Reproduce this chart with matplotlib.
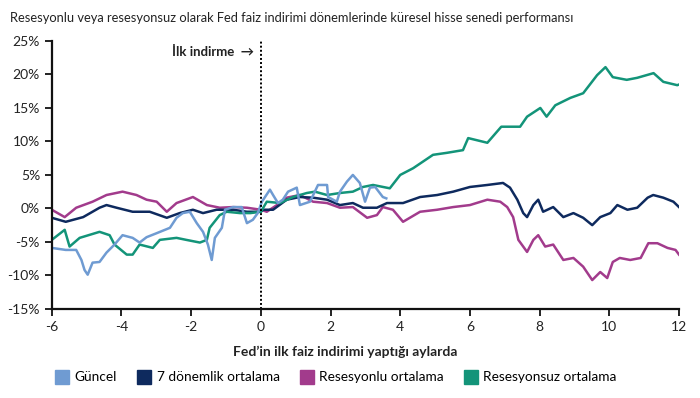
import matplotlib
matplotlib.use("Agg")
import matplotlib.pyplot as plt
from matplotlib.lines import Line2D

plt.rcParams['font.family'] = ['Lato', 'DejaVu Sans']

# Güncel (current cycle), months relative to first cut, % change
guncel_m = [-6.0, -5.6, -5.3, -5.15, -5.06, -4.97, -4.83, -4.63, -4.43, -4.2, -3.97,
            -3.68, -3.48, -3.28, -2.99, -2.61, -2.42, -2.24, -2.04, -1.84, -1.66,
            -1.52, -1.41, -1.32, -1.12, -1.03, -0.8, -0.55, -0.4, -0.23, -0.09,
            0.03, 0.26, 0.35, 0.49, 0.63, 0.78, 1.03, 1.12, 1.41, 1.64, 1.9, 1.93,
            2.18, 2.27, 2.47, 2.64, 2.84, 2.99, 3.13, 3.28, 3.5, 3.6]
guncel_v = [-5.9, -6.2, -6.2, -7.7, -9.2, -9.9, -8.1, -8.0, -6.6, -5.4, -4.0,
            -4.4, -5.1, -4.3, -3.7, -2.9, -1.4, -0.7, -0.5, -2.2, -3.5,
            -5.4, -7.7, -4.4, -2.9, -0.2, 0.2, 0.2, -2.2, -1.7, -0.7,
            1.0, 2.8, 2.0, 0.8, 1.3, 2.5, 3.1, 0.5, 1.0, 3.5, 3.5, 1.7,
            1.0, 2.5, 4.0, 5.0, 3.8, 1.0, 3.1, 3.2, 1.7, 1.5]

# 7 dönemlik ortalama
ort7_m = [-6.0, -5.6, -5.1, -4.63, -4.43, -4.14, -3.68, -3.19, -2.7, -2.33, -1.95,
          -1.66, -1.27, -0.8, -0.4, 0.0, 0.06, 0.35, 0.74, 1.12, 1.5, 1.9, 2.27,
          2.64, 2.93, 3.33, 3.62, 4.08, 4.57, 5.06, 5.52, 6.0, 6.5, 6.95, 7.15,
          7.36, 7.53, 7.64, 7.82, 7.96, 8.1, 8.39, 8.68, 8.97, 9.25, 9.51, 9.74,
          10.03, 10.23, 10.52, 10.8, 11.1, 11.26, 11.55, 11.84, 12.0]
ort7_v = [-1.4, -2.0, -1.3, 0.1, 0.5, 0.1, -0.5, -0.5, -1.4, -0.7, -0.2,
          -0.7, -0.2, -0.2, -0.5, -0.5, -0.2, -0.2, 1.3, 1.7, 1.6, 1.3, 0.5,
          0.8, 0.1, 0.1, 0.8, 0.8, 1.7, 2.0, 2.5, 3.2, 3.5, 3.8, 3.1,
          1.3, -0.7, -1.3, 0.5, 1.3, -0.5, 0.2, -1.3, -0.7, -1.4, -2.5, -1.3,
          -0.7, 0.5, -0.2, 0.1, 1.6, 2.0, 1.6, 1.0, 0.2]

# Resesyonlu ortalama
res_m = [-6.0, -5.63, -5.3, -4.83, -4.43, -3.97, -3.57, -3.28, -2.99, -2.7, -2.42,
         -1.95, -1.55, -1.18, -0.8, -0.4, 0.0, 0.17, 0.46, 0.74, 1.12, 1.5, 1.9,
         2.27, 2.64, 3.05, 3.33, 3.5, 3.79, 4.08, 4.57, 5.06, 5.52, 6.0, 6.5,
         6.87, 7.07, 7.24, 7.39, 7.64, 7.82, 7.96, 8.16, 8.39, 8.68, 8.97, 9.25,
         9.51, 9.74, 9.94, 10.1, 10.3, 10.6, 10.9, 11.12, 11.38, 11.67, 11.9, 12.0]
res_v = [-0.2, -1.3, 0.1, 1.0, 2.0, 2.5, 2.0, 1.3, 1.0, -0.5, 0.8,
         1.7, 0.5, 0.1, 0.2, 0.1, -0.2, -0.5, 0.5, 1.6, 2.0, 1.0, 0.8,
         0.1, 0.2, -1.4, -1.0, 0.2, -0.2, -2.0, -0.5, -0.2, 0.2, 0.5, 1.3,
         1.0, 0.2, -1.3, -4.7, -6.5, -4.7, -4.0, -5.7, -5.4, -7.7, -7.4, -8.7,
         -10.7, -9.5, -10.4, -8.0, -7.4, -7.7, -7.4, -5.2, -5.2, -5.9, -6.2, -6.9]

# Resesyonsuz ortalama
nores_m = [-6.0, -5.63, -5.49, -5.2, -4.63, -4.34, -4.2, -3.85, -3.68, -3.48, -3.1,
           -2.9, -2.42, -2.14, -1.75, -1.55, -1.47, -1.18, -0.98, -0.6, -0.3, 0.0,
           0.17, 0.55, 0.92, 1.32, 1.55, 1.9, 2.27, 2.64, 2.93, 3.22, 3.7, 4.0,
           4.37, 4.94, 5.34, 5.8, 5.95, 6.5, 6.9, 7.44, 7.64, 8.02, 8.2, 8.45,
           8.88, 9.25, 9.65, 9.89, 10.1, 10.5, 10.8, 11.27, 11.55, 11.95, 12.0]
nores_v = [-4.7, -3.2, -5.7, -4.4, -3.5, -4.0, -5.4, -6.9, -6.9, -5.4, -5.9,
           -4.7, -4.4, -4.7, -5.1, -4.7, -2.9, -1.0, -0.5, -0.7, -0.7, -0.5,
           1.0, 0.8, 1.7, 2.3, 2.5, 2.0, 2.3, 2.5, 3.2, 3.5, 3.0, 5.0,
           6.0, 8.0, 8.3, 8.7, 10.5, 9.8, 12.2, 12.2, 13.7, 15.0, 13.7, 15.4,
           16.5, 17.2, 19.9, 21.1, 19.6, 19.2, 19.5, 20.2, 18.9, 18.4, 18.5]

yticks = [-15, -10, -5, 0, 5, 10, 15, 20, 25]
xticks = [-6, -4, -2, 0, 2, 4, 6, 8, 10, 12]

c_guncel = '#6f9bd2'
c_ort7 = '#0e2a5e'
c_res = '#a23b8c'
c_nores = '#139479'

fig = plt.figure(figsize=(7, 3.98), dpi=100)
ax = fig.add_axes([0.074, 0.224, 0.896, 0.673])

ax.plot(res_m, res_v, color=c_res, lw=1.8)
ax.plot(ort7_m, ort7_v, color=c_ort7, lw=1.8)
ax.plot(nores_m, nores_v, color=c_nores, lw=1.8)
ax.plot(guncel_m, guncel_v, color=c_guncel, lw=1.8)

ax.axvline(0, color='black', lw=1.4, ls=(0, (1, 1.1)))
ax.text(-0.2, 23.4, 'İlk indirme  →', ha='right', va='center',
        fontsize=9.5, fontweight='bold', color='#222222')

ax.set_xlim(-6, 12)
ax.set_ylim(-15, 25)
ax.set_xticks(xticks)
ax.set_xticklabels([str(t) if t >= 0 else '-' + str(-t) for t in xticks])
ax.set_yticks(yticks)
ax.set_yticklabels([f'{t}%' if t >= 0 else f'-{-t}%' for t in yticks])
ax.tick_params(labelsize=10, width=1.4, length=5, colors='#222222')
for s in ['top', 'right']:
    ax.spines[s].set_visible(False)
for s in ['left', 'bottom']:
    ax.spines[s].set_linewidth(1.6)
    ax.spines[s].set_color('#111111')

fig.text(0.014, 0.955, 'Resesyonlu veya resesyonsuz olarak Fed faiz indirimi dönemlerinde küresel hisse senedi performansı',
         fontsize=9.3, color='#222222', va='center')
fig.text(0.493, 0.115, 'Fed’in ilk faiz indirimi yaptığı aylarda', ha='center', va='center',
         fontsize=10, fontweight='bold', color='#222222')

labels = ['Güncel', '7 dönemlik ortalama', 'Resesyonlu ortalama', 'Resesyonsuz ortalama']
colors = [c_guncel, c_ort7, c_res, c_nores]
handles = [Line2D([], [], ls='none', marker='s', markersize=10, markerfacecolor=c,
                  markeredgecolor=c) for c in colors]
fig.legend(handles, labels, loc='center left', bbox_to_anchor=(0.062, 0.052), ncol=4,
           frameon=False, fontsize=9.8, handletextpad=0.4, columnspacing=1.5,
           handlelength=1.0)

fig.savefig('out.png', dpi=100)
